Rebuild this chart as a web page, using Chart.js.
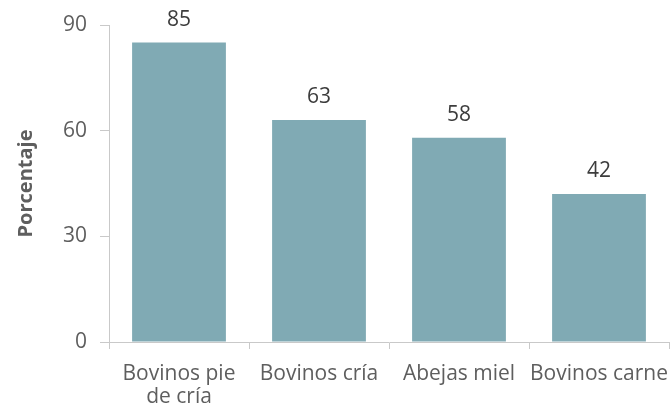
<!DOCTYPE html>
<html>
<head>
<meta charset="utf-8">
<script src="https://cdn.jsdelivr.net/npm/chart.js@4"></script>
<style>
  html, body { margin: 0; padding: 0; background: #ffffff; }
  #wrap { width: 670px; height: 406px; }
</style>
</head>
<body>
<div id="wrap"><canvas id="c" width="670" height="406"></canvas></div>
<script>
// Categories and values (percentage)
const categories = [["Bovinos pie", "de cría"], "Bovinos cría", "Abejas miel", "Bovinos carne"];
const values = [85, 63, 58, 42];
const yTicks = [0, 30, 60, 90];

const textColor = '#5e5e5e';
const axisColor = '#c9c9c9';
const barColor = '#80aab4';
const fontFamily = '"Open Sans", sans-serif';

// Draws each bar's value above it
const valueLabels = {
  id: 'valueLabels',
  afterDatasetsDraw(chart) {
    const ctx = chart.ctx;
    const meta = chart.getDatasetMeta(0);
    ctx.save();
    ctx.fillStyle = '#3c3c3c';
    ctx.font = '21px ' + fontFamily;
    ctx.textAlign = 'center';
    ctx.textBaseline = 'alphabetic';
    meta.data.forEach((bar, i) => {
      ctx.fillText(String(values[i]), bar.x, bar.y - 17);
    });
    ctx.restore();
  }
};

new Chart(document.getElementById('c'), {
  type: 'bar',
  data: {
    labels: categories,
    datasets: [{
      data: values,
      backgroundColor: barColor,
      borderWidth: 0,
      barPercentage: 0.67,
      categoryPercentage: 1.0
    }]
  },
  options: {
    responsive: false,
    animation: false,
    layout: { padding: { top: 25, right: 1, left: 0, bottom: 0 } },
    plugins: { legend: { display: false }, tooltip: { enabled: false } },
    scales: {
      x: {
        grid: { offset: true, drawOnChartArea: false, drawTicks: true, tickLength: 7, color: axisColor },
        border: { color: axisColor, width: 1 },
        ticks: { color: textColor, font: { family: fontFamily, size: 21, lineHeight: 1.1 }, padding: 13, maxRotation: 0, autoSkip: false },
        afterFit(scale) {
          scale.height = 64;
          // let the last label run to the canvas edge instead of shrinking the plot
          scale.paddingLeft = 0;
          scale.paddingRight = 0;
        }
      },
      y: {
        min: 0,
        max: 90,
        afterBuildTicks(scale) { scale.ticks = yTicks.map(v => ({ value: v })); },
        grid: { drawOnChartArea: false, drawTicks: true, tickLength: 9, color: axisColor },
        border: { color: axisColor, width: 1 },
        ticks: { color: textColor, font: { family: fontFamily, size: 21 }, padding: 13 },
        title: { display: true, text: 'Porcentaje', color: textColor, font: { family: fontFamily, size: 20, weight: 'bold' }, padding: { top: 14, bottom: 0 } },
        afterFit(scale) {
          scale.width = 109;
          scale.paddingTop = 0;
          scale.paddingBottom = 0;
        }
      }
    }
  },
  plugins: [valueLabels]
});
</script>
</body>
</html>
